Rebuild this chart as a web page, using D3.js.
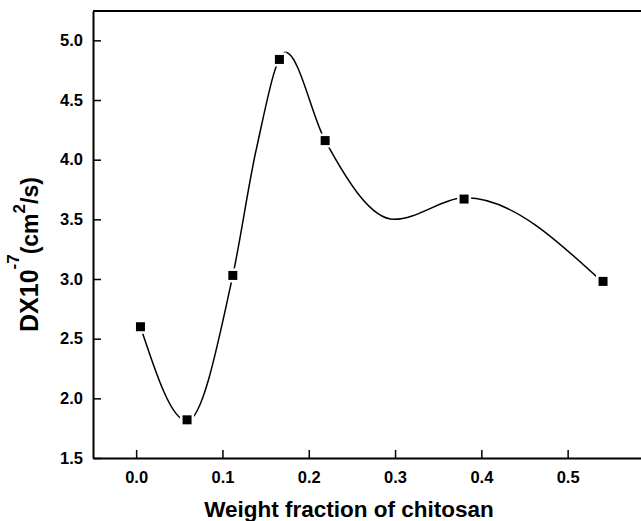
<!DOCTYPE html>
<html>
<head>
<meta charset="utf-8">
<script src="https://cdn.jsdelivr.net/npm/d3@7"></script>
<style>
  body { margin: 0; background: #fff; }
  svg { display: block; font-family: "Liberation Sans", Arial, sans-serif; }
</style>
</head>
<body>
<div id="chart"></div>
<script>
const fraction = [0.005, 0.059, 0.112, 0.166, 0.219, 0.380, 0.541]
const diffusion = [2.60, 1.82, 3.03, 4.84, 4.16, 3.67, 2.98]

// smooth guide line as it is drawn in the picture (it does not pass exactly through the symbols)
const curveX = [0.005, 0.059, 0.112, 0.139, 0.173, 0.219, 0.299, 0.382, 0.541]
const curveY = [2.60, 1.81, 3.03, 4.08, 4.90, 4.16, 3.50, 3.68, 2.97]

const xTicks = [0.0, 0.1, 0.2, 0.3, 0.4, 0.5]
const yTicks = [1.5, 2.0, 2.5, 3.0, 3.5, 4.0, 4.5, 5.0]

const width = 641
const height = 521
const margin = { top: 11, left: 93, bottom: 458 }

const svg = d3.select('#chart')
    .append('svg')
    .attr('width', width)
    .attr('height', height)

const x = d3.scaleLinear().domain([-0.05, 0.6]).range([margin.left, margin.left + 0.65 * 863])
const y = d3.scaleLinear().domain([1.5, 5.246]).range([margin.bottom, margin.top])

const points = fraction.map((f, i) => ({ x: f, y: diffusion[i] }))
const guide = curveX.map((f, i) => ({ x: f, y: curveY[i] }))

const line = d3.line()
    .x(d => x(d.x))
    .y(d => y(d.y))
    .curve(d3.curveMonotoneX)

svg.append('path')
    .datum(guide)
    .attr('d', line)
    .attr('fill', 'none')
    .attr('stroke', '#000')
    .attr('stroke-width', 1.5)

// white gap around the symbols
svg.selectAll('.gap')
    .data(points)
    .join('rect')
    .attr('class', 'gap')
    .attr('x', d => x(d.x) - 7)
    .attr('y', d => y(d.y) - 7)
    .attr('width', 14)
    .attr('height', 14)
    .attr('fill', '#fff')

svg.selectAll('.pt')
    .data(points)
    .join('rect')
    .attr('class', 'pt')
    .attr('x', d => x(d.x) - 4.5)
    .attr('y', d => y(d.y) - 4.5)
    .attr('width', 9)
    .attr('height', 9)
    .attr('fill', '#000')

// axes
const xAxis = svg.append('g')
    .attr('transform', `translate(0,${margin.bottom})`)
    .call(d3.axisBottom(x).tickValues(xTicks).tickSizeInner(-8).tickSizeOuter(0).tickPadding(13).tickFormat(d3.format('.1f')))
const yAxis = svg.append('g')
    .attr('transform', `translate(${margin.left},0)`)
    .call(d3.axisLeft(y).tickValues(yTicks).tickSizeInner(-8).tickSizeOuter(0).tickPadding(10).tickFormat(d3.format('.1f')))

for (const ax of [xAxis, yAxis]) {
    ax.select('.domain').attr('stroke-width', 2)
    ax.selectAll('.tick line').attr('stroke-width', 1.5)
    ax.selectAll('.tick text')
        .attr('font-size', 16.5)
        .attr('font-weight', 'bold')
        .attr('fill', '#000')
        .attr('font-family', '"Liberation Sans", Arial, sans-serif')
}

// top frame line
svg.append('line')
    .attr('x1', margin.left).attr('x2', width)
    .attr('y1', margin.top).attr('y2', margin.top)
    .attr('stroke', '#000')
    .attr('stroke-width', 2)

// axis titles
svg.append('text')
    .attr('x', 349)
    .attr('y', 517)
    .attr('text-anchor', 'middle')
    .attr('font-size', 22.5)
    .attr('font-weight', 'bold')
    .text('Weight fraction of chitosan')

const yTitle = svg.append('text')
    .attr('transform', 'translate(38,332) rotate(-90)')
    .attr('font-weight', 'bold')
yTitle.append('tspan').attr('font-size', 25).text('DX10')
yTitle.append('tspan').attr('dy', -19).attr('font-size', 17).text('-7')
yTitle.append('tspan').attr('dy', 19).attr('font-size', 23).text('(cm')
yTitle.append('tspan').attr('dy', -13).attr('font-size', 17).text('2')
yTitle.append('tspan').attr('dy', 13).attr('font-size', 23).text('/s)')
</script>
</body>
</html>
